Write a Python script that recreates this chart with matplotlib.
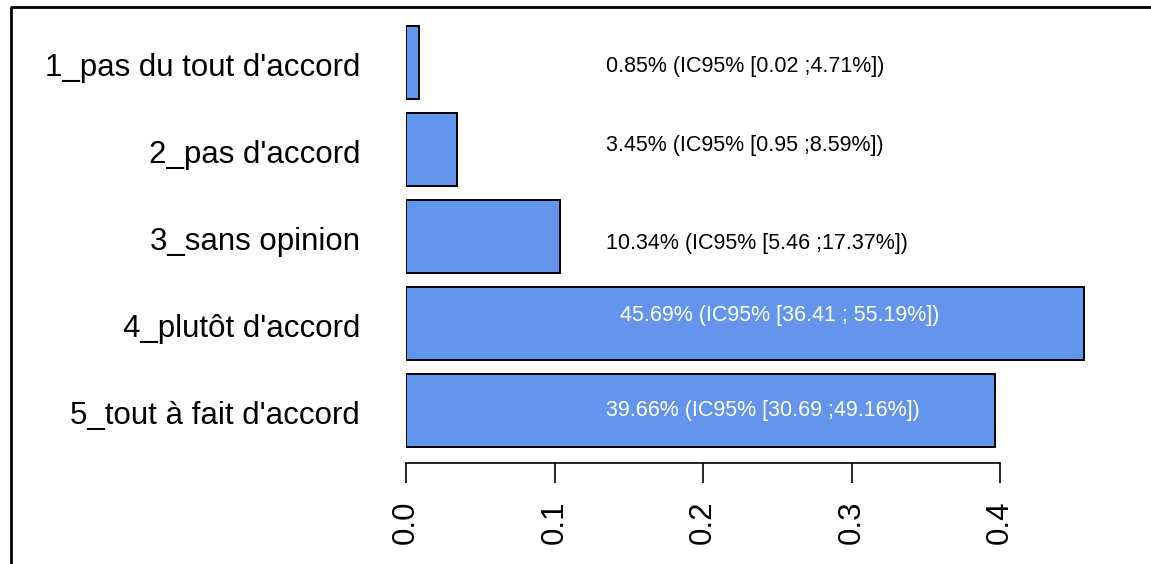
import matplotlib
matplotlib.use("Agg")
import matplotlib.pyplot as plt
from matplotlib.lines import Line2D
from matplotlib.transforms import ScaledTranslation

plt.rcParams['font.family'] = ['Liberation Sans', 'DejaVu Sans']

# Likert answers and their proportions
categories = ["1_pas du tout d'accord", "2_pas d'accord", "3_sans opinion",
              "4_plutôt d'accord", "5_tout à fait d'accord"]
proportions = [0.0085, 0.0345, 0.1034, 0.4569, 0.3966]
ci_labels = ["0.85% (IC95% [0.02 ;4.71%])",
             "3.45% (IC95% [0.95 ;8.59%])",
             "10.34% (IC95% [5.46 ;17.37%])",
             "45.69% (IC95% [36.41 ; 55.19%])",
             "39.66% (IC95% [30.69 ;49.16%])"]
label_colors = ['black', 'black', 'black', 'white', 'white']
# where each percentage label sits (x in proportion units, y offset from bar centre)
label_x = [0.135, 0.135, 0.135, 0.144, 0.135]
label_dy = [0.06, -0.06, 0.09, -0.11, 0.0]

bar_pos = [0.7 + 1.2 * i for i in range(len(categories))]

W, H = 1151, 564
fig = plt.figure(figsize=(W / 100, H / 100), dpi=100)
ax = fig.add_axes([406 / W, 1 - 462.7 / H, 742.5 / W, (462.7 - 11.75) / H])

ax.barh(bar_pos, proportions, height=1.0, color='cornflowerblue',
        edgecolor='black', linewidth=1.4)

for y, x, dy, txt, c in zip(bar_pos, label_x, label_dy, ci_labels, label_colors):
    ax.text(x, y + dy, txt, ha='left', va='center', fontsize=15.5, color=c)

ax.set_xlim(0, 0.5)
ax.set_ylim(6.22, 0)

ax.set_yticks(bar_pos)
ax.set_yticklabels(categories, fontsize=22.5)
ax.tick_params(axis='y', length=0, pad=33)
# nudge the category names down a touch
shift = ScaledTranslation(0, -2 / 100, fig.dpi_scale_trans)
for lab in ax.get_yticklabels():
    lab.set_transform(lab.get_transform() + shift)

ax.set_xticks([0, 0.1, 0.2, 0.3, 0.4])
ax.set_xticklabels(['0.0', '0.1', '0.2', '0.3', '0.4'], rotation=90, fontsize=22.5)
ax.tick_params(axis='x', length=14.4, width=1.2, pad=13)

for side in ['top', 'right', 'left']:
    ax.spines[side].set_visible(False)
ax.spines['bottom'].set_bounds(0, 0.4)
ax.spines['bottom'].set_linewidth(1.2)

# outer frame on the left and top edges
fx = 10.5 / W
fy = 1 - 6.5 / H
fig.add_artist(Line2D([fx, fx, 1], [0, fy, fy], transform=fig.transFigure,
                      color='black', linewidth=2.0))

fig.savefig('out.png', dpi=100)
